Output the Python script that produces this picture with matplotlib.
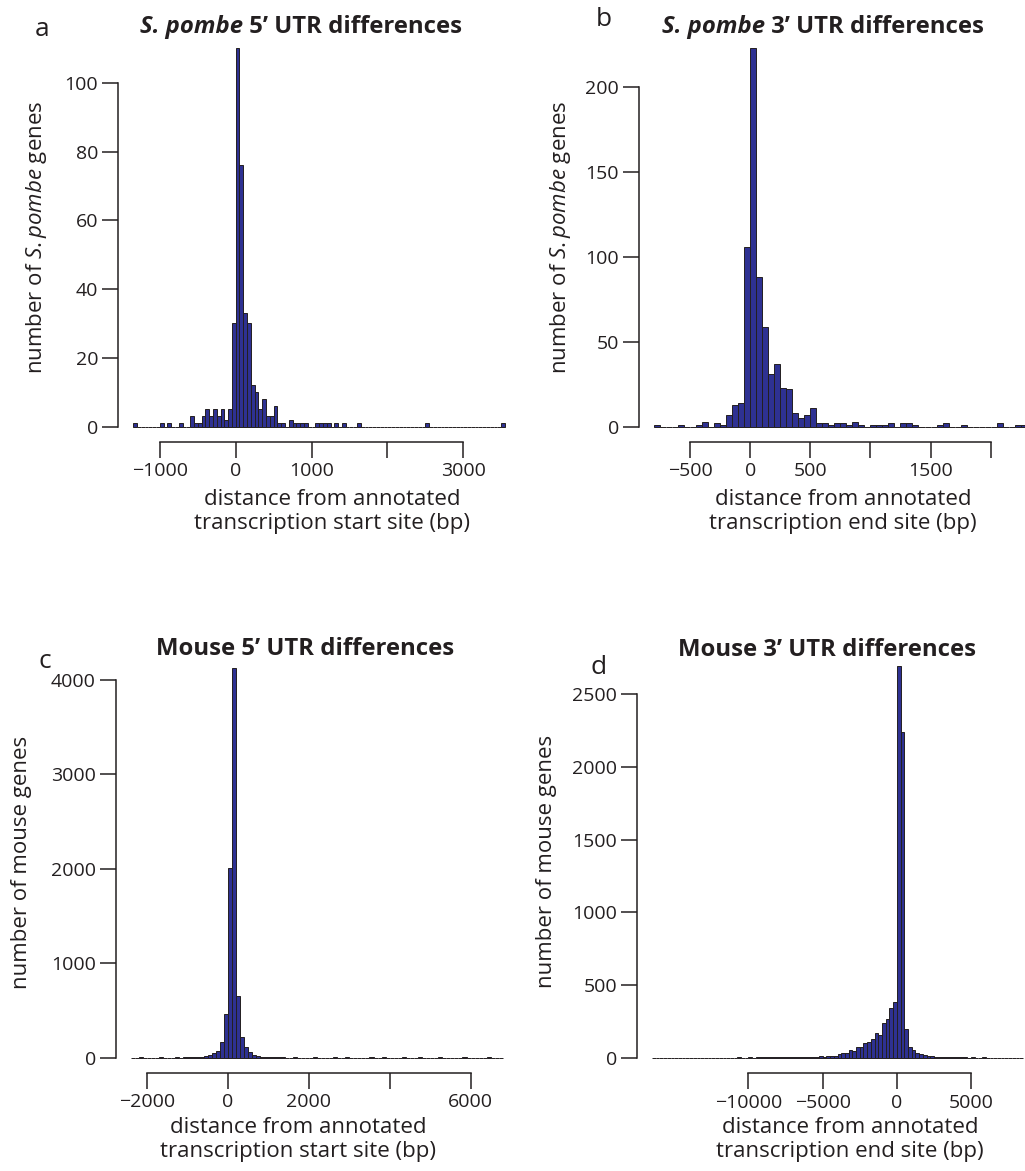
import numpy as np
import matplotlib.pyplot as plt

plt.rcParams['font.family'] = ['Open Sans', 'DejaVu Sans']
plt.rcParams['mathtext.fontset'] = 'custom'
plt.rcParams['mathtext.rm'] = 'Open Sans'
plt.rcParams['mathtext.it'] = 'Open Sans:italic'
plt.rcParams['mathtext.bf'] = 'Open Sans:bold'

INK = '#231f20'
BAR = '#2e3192'

# S. pombe 5' UTR, 50 bp bins starting at -1350
pombe5_start, pombe5_bin = -1350, 50
pombe5_counts = [1, 0, 0, 0, 0, 0, 0, 1, 0, 1,
                 0, 0, 1, 0, 0, 3, 1, 1, 3, 5,
                 3, 5, 3, 5, 2, 5, 30, 110, 76, 33,
                 30, 12, 10, 5, 8, 3, 3, 6, 1, 1,
                 0, 2, 1, 1, 1, 1, 0, 0, 1, 1,
                 1, 1, 0, 1, 0, 1, 0, 0, 0, 1,
                 0, 0, 0, 0, 0, 0, 0, 0, 0, 0,
                 0, 0, 0, 0, 0, 0, 0, 1, 0, 0,
                 0, 0, 0, 0, 0, 0, 0, 0, 0, 0,
                 0, 0, 0, 0, 0, 0, 0, 1]

# S. pombe 3' UTR, 50 bp bins starting at -800
pombe3_start, pombe3_bin = -800, 50
pombe3_counts = [1, 0, 0, 0, 1, 0, 0, 1, 3, 0,
                 2, 1, 7, 13, 14, 106, 223, 88, 59, 31,
                 37, 23, 22, 8, 5, 7, 11, 2, 2, 1,
                 2, 2, 1, 3, 1, 0, 1, 1, 1, 2,
                 0, 2, 2, 1, 0, 0, 0, 1, 2, 0,
                 0, 1, 0, 0, 0, 0, 0, 2, 0, 0,
                 1, 1]

# mouse 5' UTR, 100 bp bins starting at -2400
mouse5_start, mouse5_bin = -2400, 100
mouse5_counts = [2, 1, 3, 2, 2, 1, 2, 3, 1, 2,
                 2, 3, 2, 3, 4, 3, 5, 10, 16, 28,
                 46, 74, 163, 459, 2011, 4127, 653, 222, 110, 64,
                 28, 21, 11, 7, 5, 4, 3, 3, 2, 2,
                 3, 2, 2, 1, 2, 3, 2, 2, 1, 2,
                 3, 2, 2, 3, 2, 2, 1, 2, 2, 3,
                 2, 2, 3, 2, 1, 2, 2, 3, 2, 2,
                 2, 3, 2, 1, 2, 2, 3, 2, 2, 1,
                 2, 2, 3, 2, 2, 2, 1, 2, 3, 2,
                 2, 2]

# mouse 3' UTR, 250 bp bins starting at -16500
mouse3_start, mouse3_bin = -16500, 250
mouse3_counts = [1, 0, 1, 0, 1, 1, 0, 1, 0, 1,
                 1, 0, 1, 1, 0, 1, 1, 1, 0, 1,
                 1, 1, 1, 2, 1, 1, 2, 1, 2, 2,
                 2, 2, 3, 2, 3, 3, 3, 4, 3, 4,
                 5, 5, 5, 7, 7, 11, 7, 11, 11, 11,
                 25, 30, 34, 53, 48, 71, 76, 98, 110, 126,
                 167, 153, 236, 266, 339, 382, 2694, 2238, 201, 76,
                 53, 34, 23, 16, 11, 11, 7, 5, 3, 3,
                 2, 3, 2, 2, 2, 1, 2, 1, 1, 2,
                 1, 1, 1, 1, 1, 1, 1, 0, 1, 1]

W, H = 1025, 1171
fig = plt.figure(figsize=(W / 100, H / 100), dpi=100)

TICK_FS = 14
LAB_FS = 16
TITLE_FS = 17.2


def panel(box, start, binw, counts, xticks, xlabels, yticks, ylab, xlab,
          ylab_px, xlab_px):
    left, top, right, bottom = box
    ax = fig.add_axes([left / W, 1 - bottom / H, (right - left) / W, (bottom - top) / H])
    counts = np.asarray(counts)
    edges = start + binw * np.arange(len(counts) + 1)
    ax.bar(edges[:-1], counts, width=binw, align='edge', color=BAR,
           edgecolor=INK, linewidth=0.7)
    # leave 4% of the data range free on every side, like base R plots
    lo, hi = edges[0], edges[-1]
    pad = 0.04 * (hi - lo)
    ax.set_xlim(lo - pad, hi + pad)
    ax.set_ylim(-0.04 * counts.max(), 1.04 * counts.max())
    ax.set_xticks(xticks, labels=xlabels)
    ax.set_yticks(yticks, labels=[str(v) for v in yticks])
    for s in ('top', 'right'):
        ax.spines[s].set_visible(False)
    for s in ('left', 'bottom'):
        ax.spines[s].set_linewidth(1.1)
        ax.spines[s].set_color(INK)
    ax.spines['bottom'].set_bounds(xticks[0], xticks[-1])
    ax.spines['left'].set_bounds(yticks[0], yticks[-1])
    ax.tick_params(direction='out', length=11.5, width=1.1, color=INK,
                   labelcolor=INK, labelsize=TICK_FS, pad=3)
    ax.set_ylabel(ylab, fontsize=LAB_FS, color=INK)
    ax.set_xlabel(xlab, fontsize=LAB_FS, color=INK, linespacing=1.2)
    # ylabel anchor is its right edge, xlabel anchor is its top edge
    ax.yaxis.set_label_coords((ylab_px + 11 - left) / (right - left), 0.5)
    ax.xaxis.set_label_coords((xlab_px[0] - left) / (right - left),
                              (bottom - xlab_px[1]) / (bottom - top))
    return ax


panel((118.4, 33.2, 519.9, 441.8), pombe5_start, pombe5_bin, pombe5_counts,
      [-1000, 0, 1000, 2000, 3000], ['\u22121000', '0', '1000', '', '3000'],
      [0, 20, 40, 60, 80, 100], r'number of $\it{S.pombe}$ genes',
      'distance from annotated\ntranscription start site (bp)', 38, (332, 489))

panel((639.1, 33.2, 1041.6, 441.8), pombe3_start, pombe3_bin, pombe3_counts,
      [-500, 0, 500, 1000, 1500, 2000], ['\u2212500', '0', '500', '', '1500', ''],
      [0, 50, 100, 150, 200], r'number of $\it{S.pombe}$ genes',
      'distance from annotated\ntranscription end site (bp)', 562, (843, 489))

panel((116, 652.1, 517.8, 1073.3), mouse5_start, mouse5_bin, mouse5_counts,
      [-2000, 0, 2000, 4000, 6000], ['\u22122000', '0', '2000', '', '6000'],
      [0, 1000, 2000, 3000, 4000], 'number of mouse genes',
      'distance from annotated\ntranscription start site (bp)', 21, (298, 1117))

panel((637.2, 650.3, 1037.8, 1073.4), mouse3_start, mouse3_bin, mouse3_counts,
      [-10000, -5000, 0, 5000], ['\u221210000', '\u22125000', '0', '5000'],
      [0, 500, 1000, 1500, 2000, 2500], 'number of mouse genes',
      'distance from annotated\ntranscription end site (bp)', 546, (850, 1117))


def title_pair(x_px, y_px, italic_part, rest):
    t = fig.text(x_px / W, 1 - y_px / H, italic_part, fontsize=TITLE_FS,
                 fontweight='bold', style='italic', color=INK,
                 ha='left', va='baseline')
    fig.axes[0].annotate(rest, xy=(1, 0), xycoords=t, fontsize=TITLE_FS,
                         fontweight='bold', color=INK, ha='left', va='bottom',
                         annotation_clip=False)


title_pair(140, 33, 'S. pombe', ' 5\u2019 UTR differences')
title_pair(662, 33, 'S. pombe', ' 3\u2019 UTR differences')
fig.text(156 / W, 1 - 655 / H, 'Mouse 5\u2019 UTR differences', fontsize=TITLE_FS,
         fontweight='bold', color=INK, ha='left', va='baseline')
fig.text(678 / W, 1 - 656 / H, 'Mouse 3\u2019 UTR differences', fontsize=TITLE_FS,
         fontweight='bold', color=INK, ha='left', va='baseline')

for letter, x, y in [('a', 42, 36), ('b', 604, 26), ('c', 45, 668), ('d', 599, 674)]:
    fig.text(x / W, 1 - y / H, letter, fontsize=19, color=INK,
             ha='center', va='baseline')

fig.savefig('out.png', dpi=100)
